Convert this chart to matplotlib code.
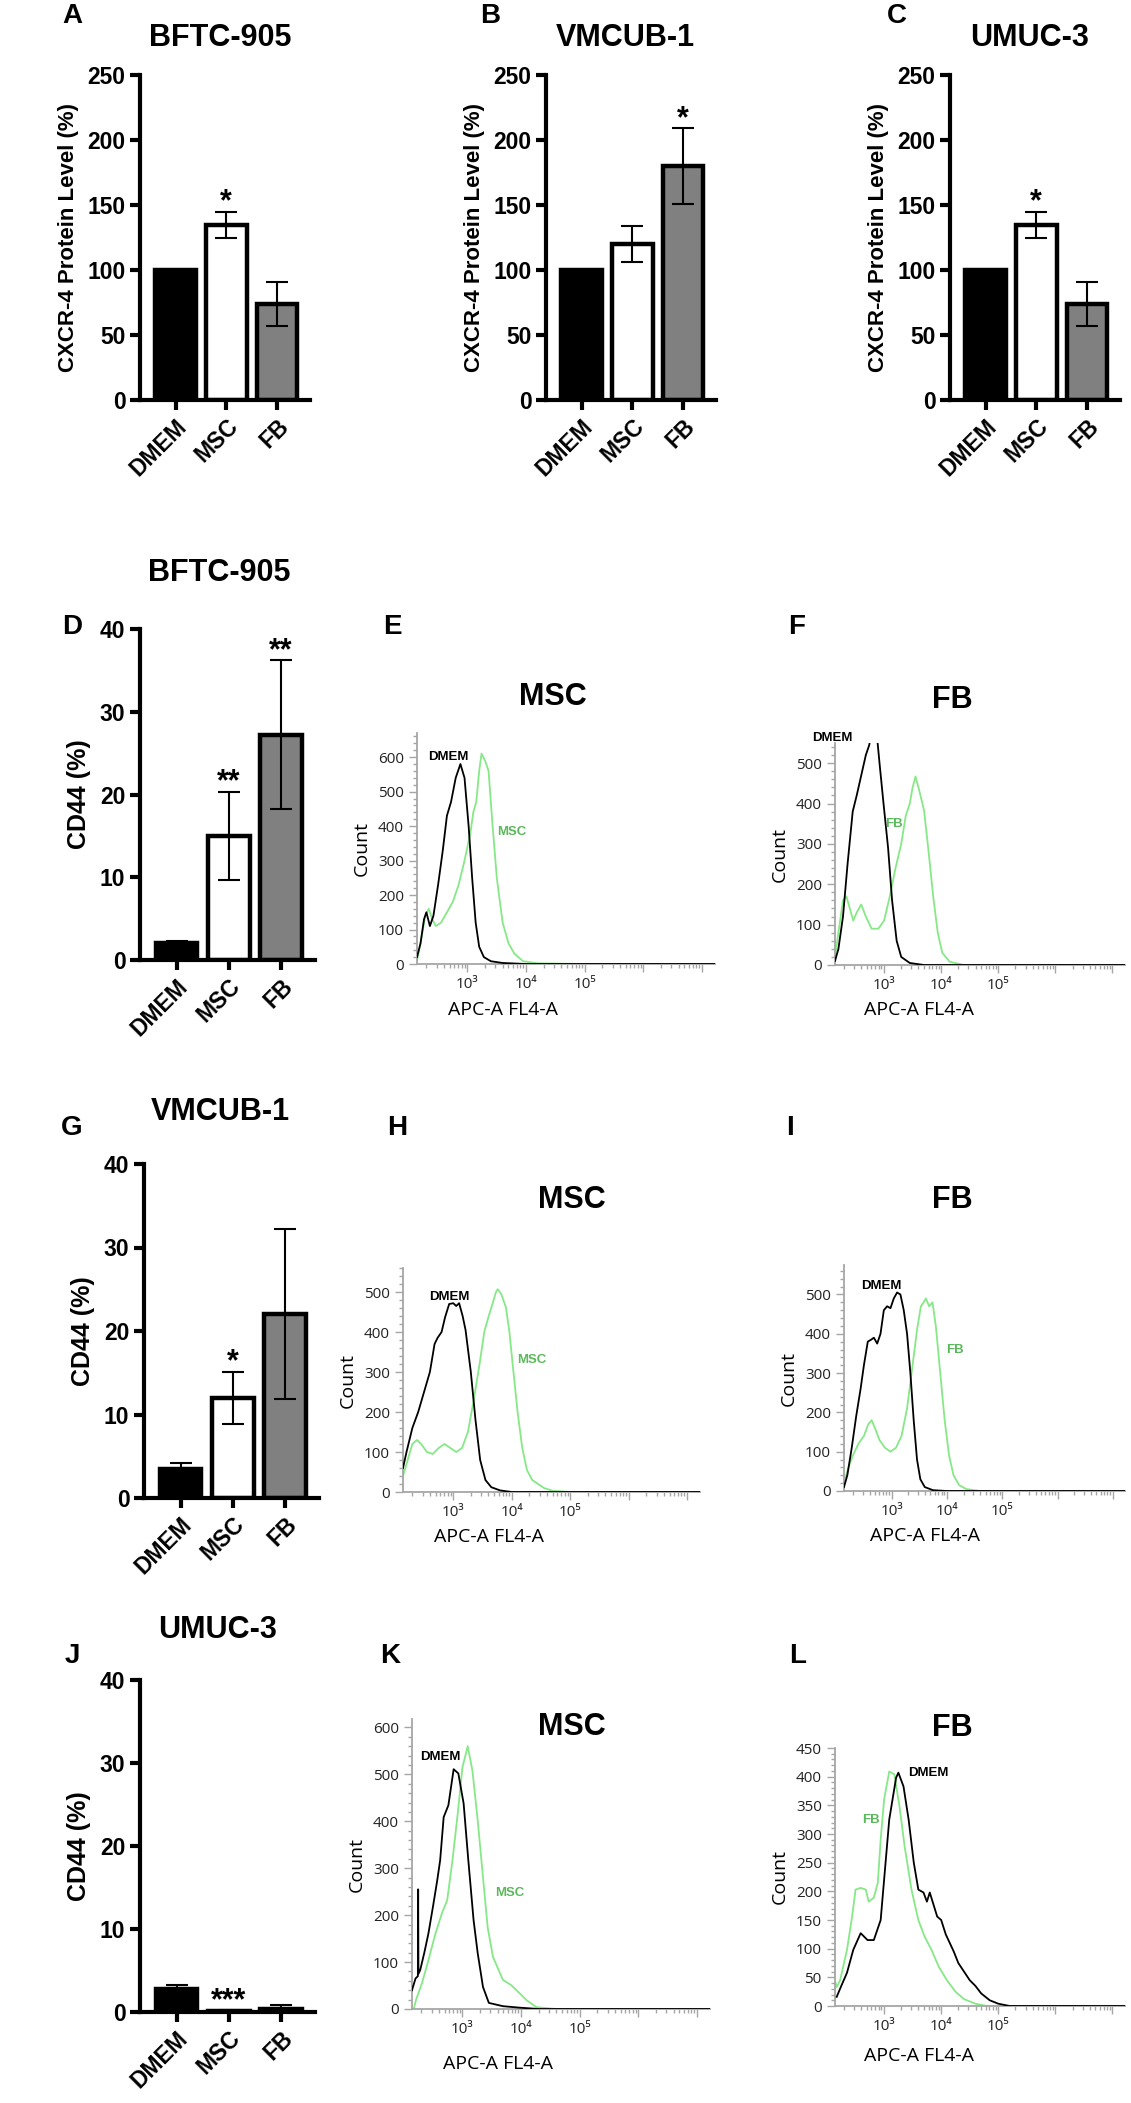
import matplotlib.pyplot as plt
import numpy as np
from matplotlib.ticker import MultipleLocator, LogLocator, NullFormatter, FixedLocator, FixedFormatter

plt.rcParams['font.family'] = ['Liberation Sans', 'DejaVu Sans']

# ---- bar chart data ----
groups = ['DMEM', 'MSC', 'FB']
bar_colors = ['black', 'white', '#808080']

cxcr4_bftc = [100, 135, 74]
cxcr4_bftc_err = [0, 10, 17]
cxcr4_vmcub = [100, 120, 180]
cxcr4_vmcub_err = [0, 14, 29]
cxcr4_umuc = [100, 135, 74]
cxcr4_umuc_err = [0, 10, 17]

cd44_bftc = [2.0, 15.0, 27.2]
cd44_bftc_err = [0.25, 5.3, 9.0]
cd44_vmcub = [3.5, 12.0, 22.0]
cd44_vmcub_err = [0.7, 3.1, 10.2]
cd44_umuc = [2.8, 0.15, 0.35]
cd44_umuc_err = [0.5, 0.05, 0.45]

stars_a = ['', '*', '']
stars_b = ['', '', '*']
stars_c = ['', '*', '']
stars_d = ['', '**', '**']
stars_g = ['', '*', '']
stars_j = ['', '***', '']

# ---- flow histograms (log10 of APC-A FL4-A, count) ----
e_dmem_lx = [2.14, 2.2, 2.26, 2.3, 2.36, 2.42, 2.5, 2.58, 2.65, 2.72, 2.8, 2.88, 2.95, 3.02, 3.08, 3.14, 3.2, 3.28, 3.4, 3.6, 4.0, 7.22]
e_dmem_ct = [20, 60, 130, 150, 110, 140, 230, 330, 430, 470, 540, 580, 540, 400, 250, 120, 50, 20, 8, 3, 0, 0]
e_msc_lx = [2.14, 2.2, 2.28, 2.34, 2.4, 2.46, 2.55, 2.65, 2.75, 2.85, 2.95, 3.05, 3.1, 3.15, 3.2, 3.24, 3.3, 3.36, 3.42, 3.5, 3.6, 3.7, 3.8, 3.95, 4.2, 5.0, 7.22]
e_msc_ct = [10, 60, 140, 160, 130, 110, 120, 150, 180, 230, 300, 380, 440, 470, 560, 610, 590, 560, 420, 250, 120, 60, 30, 8, 2, 0, 0]

f_dmem_lx = [2.14, 2.2, 2.28, 2.36, 2.45, 2.52, 2.6, 2.68, 2.74, 2.8, 2.86, 2.92, 2.99, 3.07, 3.14, 3.22, 3.3, 3.45, 3.7, 7.22]
f_dmem_ct = [10, 40, 120, 250, 380, 420, 470, 520, 545, 600, 590, 500, 400, 290, 160, 60, 20, 5, 0, 0]
f_fb_lx = [2.14, 2.2, 2.28, 2.34, 2.4, 2.46, 2.52, 2.6, 2.68, 2.78, 2.9, 3.0, 3.1, 3.2, 3.3, 3.38, 3.45, 3.5, 3.55, 3.62, 3.7, 3.78, 3.86, 3.94, 4.02, 4.15, 4.4, 7.22]
f_fb_ct = [20, 80, 160, 170, 140, 110, 130, 150, 120, 90, 90, 110, 170, 240, 300, 370, 400, 440, 467, 430, 383, 280, 170, 80, 30, 8, 0, 0]

h_dmem_lx = [2.14, 2.2, 2.3, 2.4, 2.5, 2.6, 2.68, 2.73, 2.8, 2.86, 2.93, 3.0, 3.05, 3.1, 3.16, 3.21, 3.3, 3.38, 3.46, 3.55, 3.65, 3.8, 4.0, 7.22]
h_dmem_ct = [60, 100, 160, 200, 250, 300, 370, 385, 400, 437, 470, 472, 465, 472, 440, 405, 300, 180, 80, 30, 12, 4, 0, 0]
h_msc_lx = [2.14, 2.22, 2.3, 2.38, 2.45, 2.55, 2.65, 2.75, 2.85, 2.95, 3.05, 3.15, 3.25, 3.35, 3.45, 3.53, 3.6, 3.67, 3.73, 3.76, 3.82, 3.9, 3.96, 4.02, 4.1, 4.18, 4.26, 4.35, 4.45, 4.55, 4.7, 5.0, 7.22]
h_msc_ct = [40, 80, 120, 130, 120, 100, 95, 110, 120, 110, 100, 110, 150, 230, 320, 400, 437, 470, 500, 507, 495, 462, 400, 313, 200, 110, 55, 30, 20, 10, 3, 0, 0]

i_dmem_lx = [2.14, 2.2, 2.28, 2.36, 2.44, 2.5, 2.57, 2.63, 2.68, 2.74, 2.8, 2.86, 2.92, 2.98, 3.04, 3.1, 3.16, 3.22, 3.28, 3.34, 3.4, 3.46, 3.52, 3.6, 3.75, 4.0, 7.22]
i_dmem_ct = [10, 40, 110, 190, 260, 320, 380, 385, 390, 375, 400, 460, 470, 465, 490, 505, 500, 460, 400, 300, 180, 80, 30, 10, 2, 0, 0]
i_fb_lx = [2.14, 2.22, 2.3, 2.4, 2.5, 2.58, 2.64, 2.7, 2.78, 2.88, 2.98, 3.08, 3.18, 3.28, 3.38, 3.46, 3.53, 3.58, 3.62, 3.68, 3.74, 3.8, 3.88, 3.96, 4.04, 4.12, 4.22, 4.35, 4.6, 7.22]
i_fb_ct = [20, 60, 90, 120, 140, 170, 180, 160, 130, 110, 100, 110, 140, 210, 320, 410, 470, 480, 490, 470, 480, 420, 300, 180, 90, 40, 15, 5, 0, 0]

k_dmem_lx = [2.14, 2.2, 2.24, 2.245, 2.25, 2.28, 2.35, 2.42, 2.5, 2.57, 2.62, 2.68, 2.76, 2.85, 2.93, 3.02, 3.1, 3.19, 3.26, 3.35, 3.45, 3.69, 3.96, 4.3, 7.22]
k_dmem_ct = [40, 65, 70, 255, 75, 83, 120, 161, 220, 274, 317, 409, 434, 511, 502, 438, 317, 189, 119, 47, 13, 6, 3, 0, 0]
k_msc_lx = [2.17, 2.21, 2.31, 2.42, 2.54, 2.65, 2.74, 2.83, 2.92, 3.0, 3.09, 3.17, 3.26, 3.35, 3.43, 3.52, 3.69, 3.83, 3.97, 4.09, 4.26, 4.43, 4.6, 7.22]
k_msc_ct = [0, 20, 55, 104, 161, 204, 232, 317, 417, 515, 560, 508, 402, 281, 174, 111, 62, 51, 34, 19, 4, 2, 0, 0]

l_dmem_lx = [2.17, 2.25, 2.35, 2.46, 2.59, 2.71, 2.82, 2.94, 3.0, 3.09, 3.21, 3.25, 3.34, 3.43, 3.52, 3.6, 3.69, 3.75, 3.8, 3.93, 4.0, 4.08, 4.15, 4.22, 4.3, 4.4, 4.5, 4.6, 4.7, 4.85, 5.0, 5.2, 7.22]
l_dmem_ct = [16, 35, 58, 98, 127, 115, 115, 150, 220, 325, 398, 407, 383, 325, 250, 203, 198, 182, 198, 156, 150, 125, 110, 95, 75, 60, 45, 35, 22, 10, 4, 0, 0]
l_fb_lx = [2.15, 2.17, 2.23, 2.35, 2.44, 2.5, 2.59, 2.68, 2.73, 2.82, 2.89, 2.94, 3.0, 3.09, 3.18, 3.27, 3.36, 3.48, 3.6, 3.71, 3.83, 3.96, 4.1, 4.25, 4.4, 4.6, 4.8, 7.22]
l_fb_ct = [40, 33, 45, 98, 156, 203, 206, 203, 182, 189, 215, 290, 360, 409, 404, 348, 278, 203, 150, 121, 98, 68, 45, 25, 12, 4, 0, 0]

W, H = 1131, 2103
fig = plt.figure(figsize=(W / 100, H / 100), dpi=100)

line_green = '#86e886'
text_green = '#5cb85c'
axis_gray = '#a6a6a6'


def add_ax(x0, y0, x1, y1):
    # pixel box, y measured from top
    return fig.add_axes([x0 / W, 1 - y1 / H, (x1 - x0) / W, (y1 - y0) / H])


def ftext(x, y, s, **kw):
    fig.text(x / W, 1 - y / H, s, **kw)


def bar_panel(box, vals, errs, stars, ymax, ystep, ylabel, lsize):
    ax = add_ax(*box)
    x = np.arange(3)
    ax.bar(x, vals, width=0.8, color=bar_colors, edgecolor='black', linewidth=3.2, zorder=2)
    ax.errorbar(x, vals, yerr=errs, fmt='none', ecolor='black', elinewidth=1.5,
                capsize=8, capthick=1.5, zorder=3)
    for i, s in enumerate(stars):
        if s:
            ax.annotate(s, xy=(i, vals[i] + errs[i]), xytext=(0, 1), textcoords='offset points',
                        ha='center', va='baseline', fontsize=22, fontweight='bold')
    ax.set_xlim(-0.7, 2.65)
    ax.set_ylim(0, ymax)
    ax.set_yticks(np.arange(0, ymax + 1, ystep))
    ax.set_xticks(x, groups, rotation=45, ha='right', rotation_mode='anchor')
    for lbl in ax.get_xticklabels() + ax.get_yticklabels():
        lbl.set_fontweight('bold')
        lbl.set_fontsize(16.5)
    for s in ['top', 'right']:
        ax.spines[s].set_visible(False)
    for s in ['left', 'bottom']:
        ax.spines[s].set_linewidth(3)
    ax.tick_params(width=3, length=7)
    ax.set_ylabel(ylabel, fontsize=lsize, fontweight='bold', labelpad=6)
    return ax


def hist_panel(box, dm_lx, dm_ct, tr_lx, tr_ct, ymax, ystep, yminor):
    ax = add_ax(*box)
    ax.plot(10.0 ** np.asarray(dm_lx), dm_ct, color='black', lw=1.3, zorder=3)
    ax.plot(10.0 ** np.asarray(tr_lx), tr_ct, color=line_green, lw=1.3, zorder=2)
    ax.set_xscale('log')
    ax.set_xlim(10 ** 2.14, 10 ** 7.22)
    ax.set_ylim(0, ymax)
    for s in ['top', 'right']:
        ax.spines[s].set_visible(False)
    for s in ['left', 'bottom']:
        ax.spines[s].set_color(axis_gray)
        ax.spines[s].set_linewidth(1.3)
    ax.yaxis.set_major_locator(MultipleLocator(ystep))
    ax.yaxis.set_minor_locator(MultipleLocator(yminor))
    ax.xaxis.set_major_locator(FixedLocator([1e3, 1e4, 1e5, 1e6, 1e7]))
    ax.xaxis.set_major_formatter(FixedFormatter(['10³', '10⁴', '10⁵', '', '']))
    ax.xaxis.set_minor_locator(LogLocator(base=10, subs=np.arange(2, 10) * 1.0, numticks=30))
    ax.xaxis.set_minor_formatter(NullFormatter())
    ax.tick_params(which='both', color=axis_gray, width=1, direction='out')
    ax.tick_params(which='major', length=6, labelsize=11, labelcolor='#222222')
    ax.tick_params(which='minor', length=3)
    for lbl in ax.get_xticklabels() + ax.get_yticklabels():
        lbl.set_family(['Open Sans', 'DejaVu Sans'])
    ax.set_ylabel('Count', fontsize=14, family='Open Sans', labelpad=5)
    ax.set_xlabel('APC-A FL4-A', fontsize=14, family='Open Sans')
    ax.xaxis.set_label_coords(0.29, -0.16)
    return ax


def curve_label(ax, lx, ct, s, color, ha='center'):
    ax.text(10 ** lx, ct, s, color=color, fontsize=9.5, fontweight='bold',
            ha=ha, va='center', clip_on=False, zorder=5)


# ---- row 1: CXCR-4 ----
cx_label = 'CXCR-4 Protein Level (%)'
bar_panel((140, 75, 310, 400), cxcr4_bftc, cxcr4_bftc_err, stars_a, 250, 50, cx_label, 16)
bar_panel((546, 75, 716, 400), cxcr4_vmcub, cxcr4_vmcub_err, stars_b, 250, 50, cx_label, 16)
bar_panel((950, 75, 1120, 400), cxcr4_umuc, cxcr4_umuc_err, stars_c, 250, 50, cx_label, 16)

# ---- CD44 bars ----
bar_panel((140, 629, 315, 960), cd44_bftc, cd44_bftc_err, stars_d, 40, 10, 'CD44 (%)', 18)
bar_panel((144, 1164, 319, 1498), cd44_vmcub, cd44_vmcub_err, stars_g, 40, 10, 'CD44 (%)', 18)
bar_panel((140, 1680, 315, 2012), cd44_umuc, cd44_umuc_err, stars_j, 40, 10, 'CD44 (%)', 18)

# ---- histograms ----
ax_e = hist_panel((417, 733, 715, 964), e_dmem_lx, e_dmem_ct, e_msc_lx, e_msc_ct, 670, 100, 20)
curve_label(ax_e, 2.67, 600, 'DMEM', 'black')
curve_label(ax_e, 3.76, 383, 'MSC', text_green)

ax_f = hist_panel((835, 743, 1125, 965), f_dmem_lx, f_dmem_ct, f_fb_lx, f_fb_ct, 550, 100, 20)
curve_label(ax_f, 2.1, 562, 'DMEM', 'black')
curve_label(ax_f, 3.18, 350, 'FB', text_green)

ax_h = hist_panel((403, 1268, 700, 1492), h_dmem_lx, h_dmem_ct, h_msc_lx, h_msc_ct, 560, 100, 20)
curve_label(ax_h, 2.94, 487, 'DMEM', 'black')
curve_label(ax_h, 4.35, 330, 'MSC', text_green)

ax_i = hist_panel((844, 1265, 1125, 1491), i_dmem_lx, i_dmem_ct, i_fb_lx, i_fb_ct, 575, 100, 20)
curve_label(ax_i, 2.82, 521, 'DMEM', 'black')
curve_label(ax_i, 4.15, 360, 'FB', text_green)

ax_k = hist_panel((412, 1719, 710, 2009), k_dmem_lx, k_dmem_ct, k_msc_lx, k_msc_ct, 618, 100, 20)
curve_label(ax_k, 2.62, 536, 'DMEM', 'black')
curve_label(ax_k, 3.81, 247, 'MSC', text_green)

ax_l = hist_panel((835, 1748, 1125, 2006), l_dmem_lx, l_dmem_ct, l_fb_lx, l_fb_ct, 450, 50, 10)
curve_label(ax_l, 3.42, 407, 'DMEM', 'black', ha='left')
curve_label(ax_l, 2.77, 325, 'FB', text_green)

# ---- titles ----
tkw = dict(fontsize=22, fontweight='bold', ha='center', va='center')
ftext(220, 38, 'BFTC-905', **tkw)
ftext(625, 38, 'VMCUB-1', **tkw)
ftext(1030, 38, 'UMUC-3', **tkw)
ftext(219, 573, 'BFTC-905', **tkw)
ftext(220, 1112, 'VMCUB-1', **tkw)
ftext(218, 1630, 'UMUC-3', **tkw)
ftext(553, 697, 'MSC', **tkw)
ftext(952, 700, 'FB', **tkw)
ftext(572, 1200, 'MSC', **tkw)
ftext(952, 1200, 'FB', **tkw)
ftext(572, 1727, 'MSC', **tkw)
ftext(952, 1728, 'FB', **tkw)

# ---- panel letters ----
lkw = dict(fontsize=20, fontweight='bold', ha='center', va='center')
for s, x, y in [('A', 72, 16), ('B', 490, 16), ('C', 897, 16),
                ('D', 72, 627), ('E', 392, 627), ('F', 797, 627),
                ('G', 72, 1128), ('H', 397, 1128), ('I', 790, 1128),
                ('J', 72, 1656), ('K', 390, 1656), ('L', 798, 1656)]:
    ftext(x, y, s, **lkw)

fig.savefig('out.png', dpi=100)
